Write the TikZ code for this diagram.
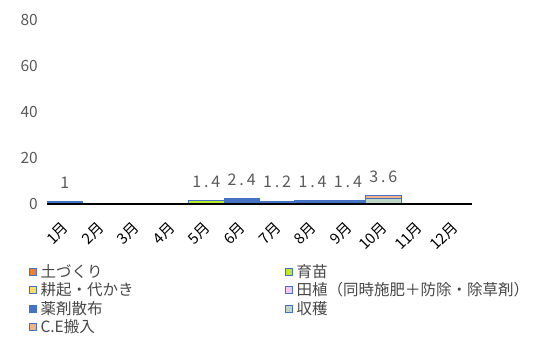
\documentclass[tikz,border=0pt]{standalone}
\usepackage{fontspec}
\setmainfont{Noto Sans CJK JP}
\newfontfamily\numfont[LetterSpace=18]{Noto Sans CJK JP}
\usepackage{tikz}
\usetikzlibrary{calc,positioning}
\definecolor{txtgray}{HTML}{595959}
\definecolor{edgeblue}{HTML}{4472C4}
\definecolor{tsuchi}{HTML}{ED7D31}
\definecolor{ikubyo}{HTML}{BFEA2A}
\definecolor{koki}{HTML}{FFD966}
\definecolor{taue}{HTML}{F7C6F3}
\definecolor{yakuzai}{HTML}{4472C4}
\definecolor{shukaku}{HTML}{BFD6C6}
\definecolor{cehan}{HTML}{F4B183}
\tikzset{
    ticklbl/.style={anchor=east,text=txtgray,font=\fontsize{15.5}{15.5}\selectfont,inner sep=1pt},
    monthlbl/.style={anchor=east,rotate=45,text=black,font=\fontsize{15}{15}\selectfont,inner sep=1pt},
    vallbl/.style={anchor=south,text=txtgray,font=\numfont\fontsize{16}{16}\selectfont,inner sep=1pt},
    seg/.style={draw=edgeblue,line width=0.8pt,fill=#1},
    legbox/.style={draw=edgeblue,line width=1.2pt,fill=#1,minimum size=7.5pt,inner sep=0pt},
    legtext/.style={right,text=txtgray!80!black,font=\fontsize{15.5}{15.5}\selectfont,inner sep=1pt},
    axisline/.style={draw=black,line width=1.3pt},
}
% 1 unit = 1px, y = 0 at 133, 2.3px per value unit
\newcommand{\colw}{35.4}
\newcommand{\segment}[4]{% month, bottom, top, colour
  \path[seg=#4] ({47+\colw*(#1-1)},{133+2.3*#2}) rectangle ({47+\colw*#1},{133+2.3*#3});}

\begin{document}
\begin{tikzpicture}[x=1pt,y=1pt]
\useasboundingbox (0,0) rectangle (550,337);

% value axis labels
\foreach \v in {0,20,40,60,80}
  \node[ticklbl] (y\v) at (39,{133+2.3*\v}) {\v};

% stacked bars
\segment{1}{0}{1.0}{yakuzai}
\segment{5}{0}{1.4}{ikubyo}
\segment{6}{0}{0.6}{koki}
\segment{6}{0.6}{2.4}{yakuzai}
\segment{7}{0}{1.2}{yakuzai}
\segment{8}{0}{1.4}{yakuzai}
\segment{9}{0}{1.4}{yakuzai}
\segment{10}{0}{2.6}{shukaku}
\segment{10}{2.6}{3.6}{cehan}

% category axis
\coordinate (ax0) at (47,133);
\coordinate (ax1) at (472,133);
\draw[axisline] (ax0) -- (ax1);
\foreach \m in {1,...,12}
  \node[monthlbl] (m\m) at ({47+\colw*(\m-0.5)+2},113) {\m 月};

% totals
\foreach \m/\t in {1/1,5/1.4,6/2.4,7/1.2,8/1.4,9/1.4,10/3.6}
  \node[vallbl] (v\m) at ({47+\colw*(\m-0.5)},{133+2.3*\t+12}) {\t};

% legend
\node[legbox=tsuchi]  (k1) at (33,65) {};
\node[legtext] (t1) at ([xshift=2pt]k1.east) {土づくり};
\node[legbox=koki]    (k2) at (33,47) {};
\node[legtext] (t2) at ([xshift=2pt]k2.east) {耕起・代かき};
\node[legbox=yakuzai] (k3) at (33,28) {};
\node[legtext] (t3) at ([xshift=2pt]k3.east) {薬剤散布};
\node[legbox=cehan]   (k4) at (33,10) {};
\node[legtext] (t4) at ([xshift=2pt]k4.east) {C.E搬入};
\node[legbox=ikubyo]  (k5) at (289,65) {};
\node[legtext] (t5) at ([xshift=2pt]k5.east) {育苗};
\node[legbox=taue]    (k6) at (289,47) {};
\node[legtext] (t6) at ([xshift=2pt]k6.east) {田植（同時施肥＋防除・除草剤）};
\node[legbox=shukaku] (k7) at (289,28) {};
\node[legtext] (t7) at ([xshift=2pt]k7.east) {収穫};
\end{tikzpicture}
\end{document}
